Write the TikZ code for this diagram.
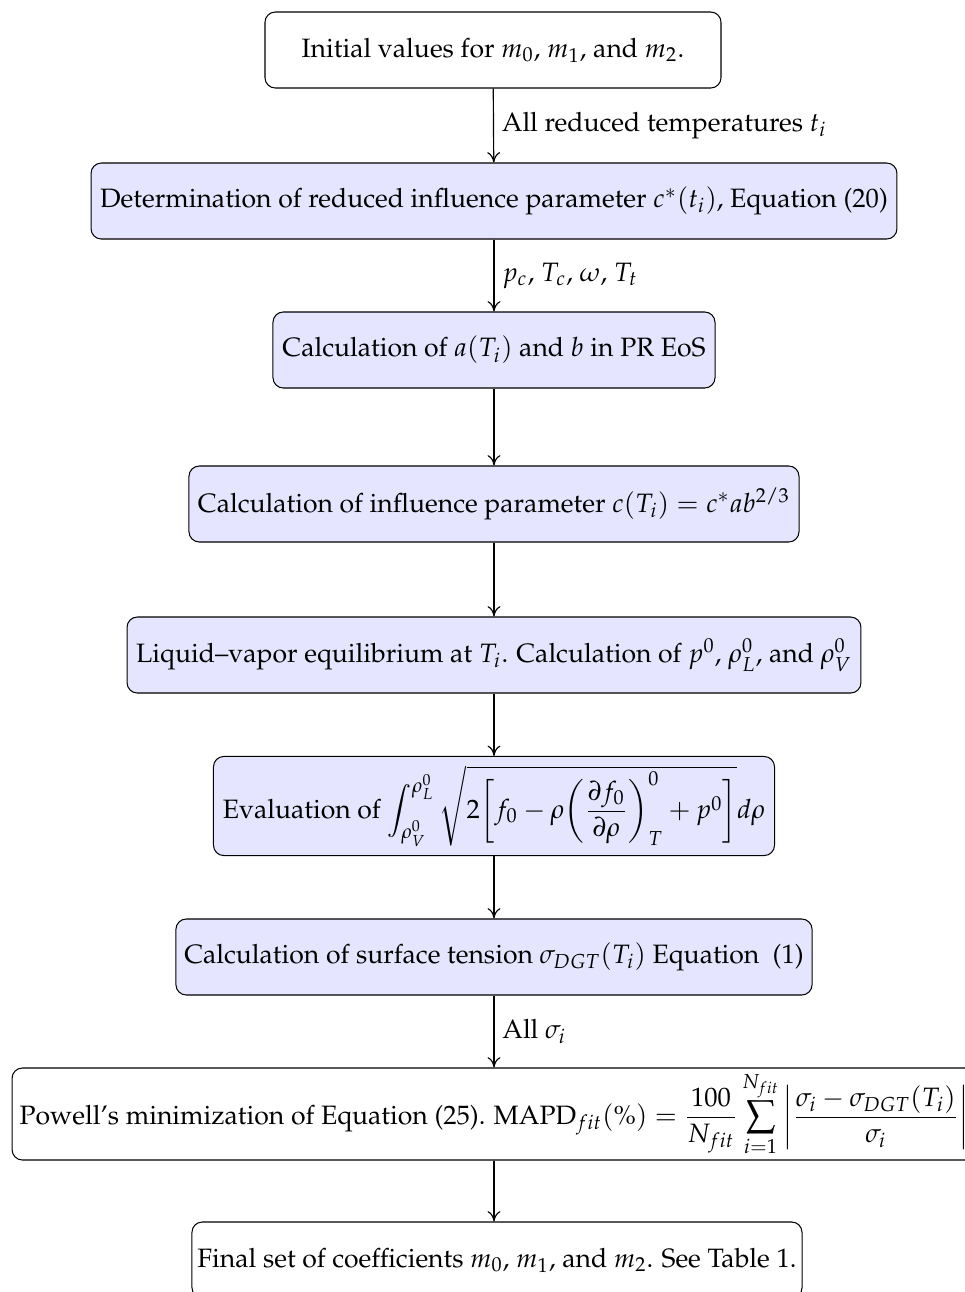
\documentclass[tikz,border=0pt]{standalone}
\usepackage[T1]{fontenc}
\usepackage{mathpazo}
\usetikzlibrary{arrows.meta}
\begin{document}
\begin{tikzpicture}[x=0.3875pt,y=-0.3875pt,
  every node/.style={font=\fontsize{10.3}{12.4}\selectfont},
  boxbase/.style={draw, rounded corners=4pt, align=center, inner sep=0pt, minimum height=29.45pt},
  bluebox/.style={boxbase, fill=blue!10},
  whitebox/.style={boxbase, fill=white},
  arr/.style={-{To[length=4pt,width=5pt]}, line width=0.45pt},
  lbl/.style={right, inner sep=3pt}]
\useasboundingbox (0,0) rectangle (965,1292);
\node[whitebox, minimum width=176.7pt] (b1) at (493,50) {Initial values for $m_0$, $m_1$, and $m_2$.};
\node[bluebox, minimum width=312.3pt] (b2) at (494,201) {Determination of reduced influence parameter $c^*(t_i)$, Equation (20)};
\node[bluebox, minimum width=171.3pt] (b3) at (494,350) {Calculation of $a(T_i)$ and $b$ in PR EoS};
\node[bluebox, minimum width=236.4pt] (b4) at (494,504) {Calculation of influence parameter $c(T_i)=c^*ab^{2/3}$};
\node[bluebox, minimum width=284.4pt] (b5) at (494,655) {Liquid--vapor equilibrium at $T_i$. Calculation of $p^0$, $\rho_L^0$, and $\rho_V^0$};
\node[bluebox, minimum width=217.4pt, minimum height=38.4pt] (b6) at (494,806) {Evaluation of $\displaystyle\int_{\rho_V^0}^{\rho_L^0}\sqrt{2\biggl[f_0-\rho\biggl(\frac{\partial f_0}{\partial\rho}\biggr)_T^0+p^0\biggr]}d\rho$};
\node[bluebox, minimum width=246.5pt] (b7) at (494,957) {Calculation of surface tension $\sigma_{DGT}(T_i)$ Equation~~(1)};
\node[whitebox, minimum width=373.5pt, minimum height=35.65pt] (b8) at (494,1114) {Powell's minimization of Equation (25). MAPD$_{fit}(\%)=\displaystyle\frac{100}{N_{fit}}\sum_{i=1}^{N_{fit}}\left|\frac{\sigma_i-\sigma_{DGT}(T_i)}{\sigma_i}\right|$};
\node[whitebox, minimum width=236.4pt] (b9) at (497,1260) {Final set of coefficients $m_0$, $m_1$, and $m_2$. See Table 1.};
\draw[arr] (b1) -- node[lbl] {All reduced temperatures $t_i$} (b2);
\draw[arr] (b2) -- node[lbl] {$p_c$, $T_c$, $\omega$, $T_t$} (b3);
\draw[arr] (b3) -- (b4);
\draw[arr] (b4) -- (b5);
\draw[arr] (b5) -- (b6);
\draw[arr] (b6) -- (b7);
\draw[arr] (b7) -- node[lbl] {All $\sigma_i$} (b8);
\draw[arr] (b8.south) -- (b8.south |- b9.north);
\end{tikzpicture}
\end{document}
